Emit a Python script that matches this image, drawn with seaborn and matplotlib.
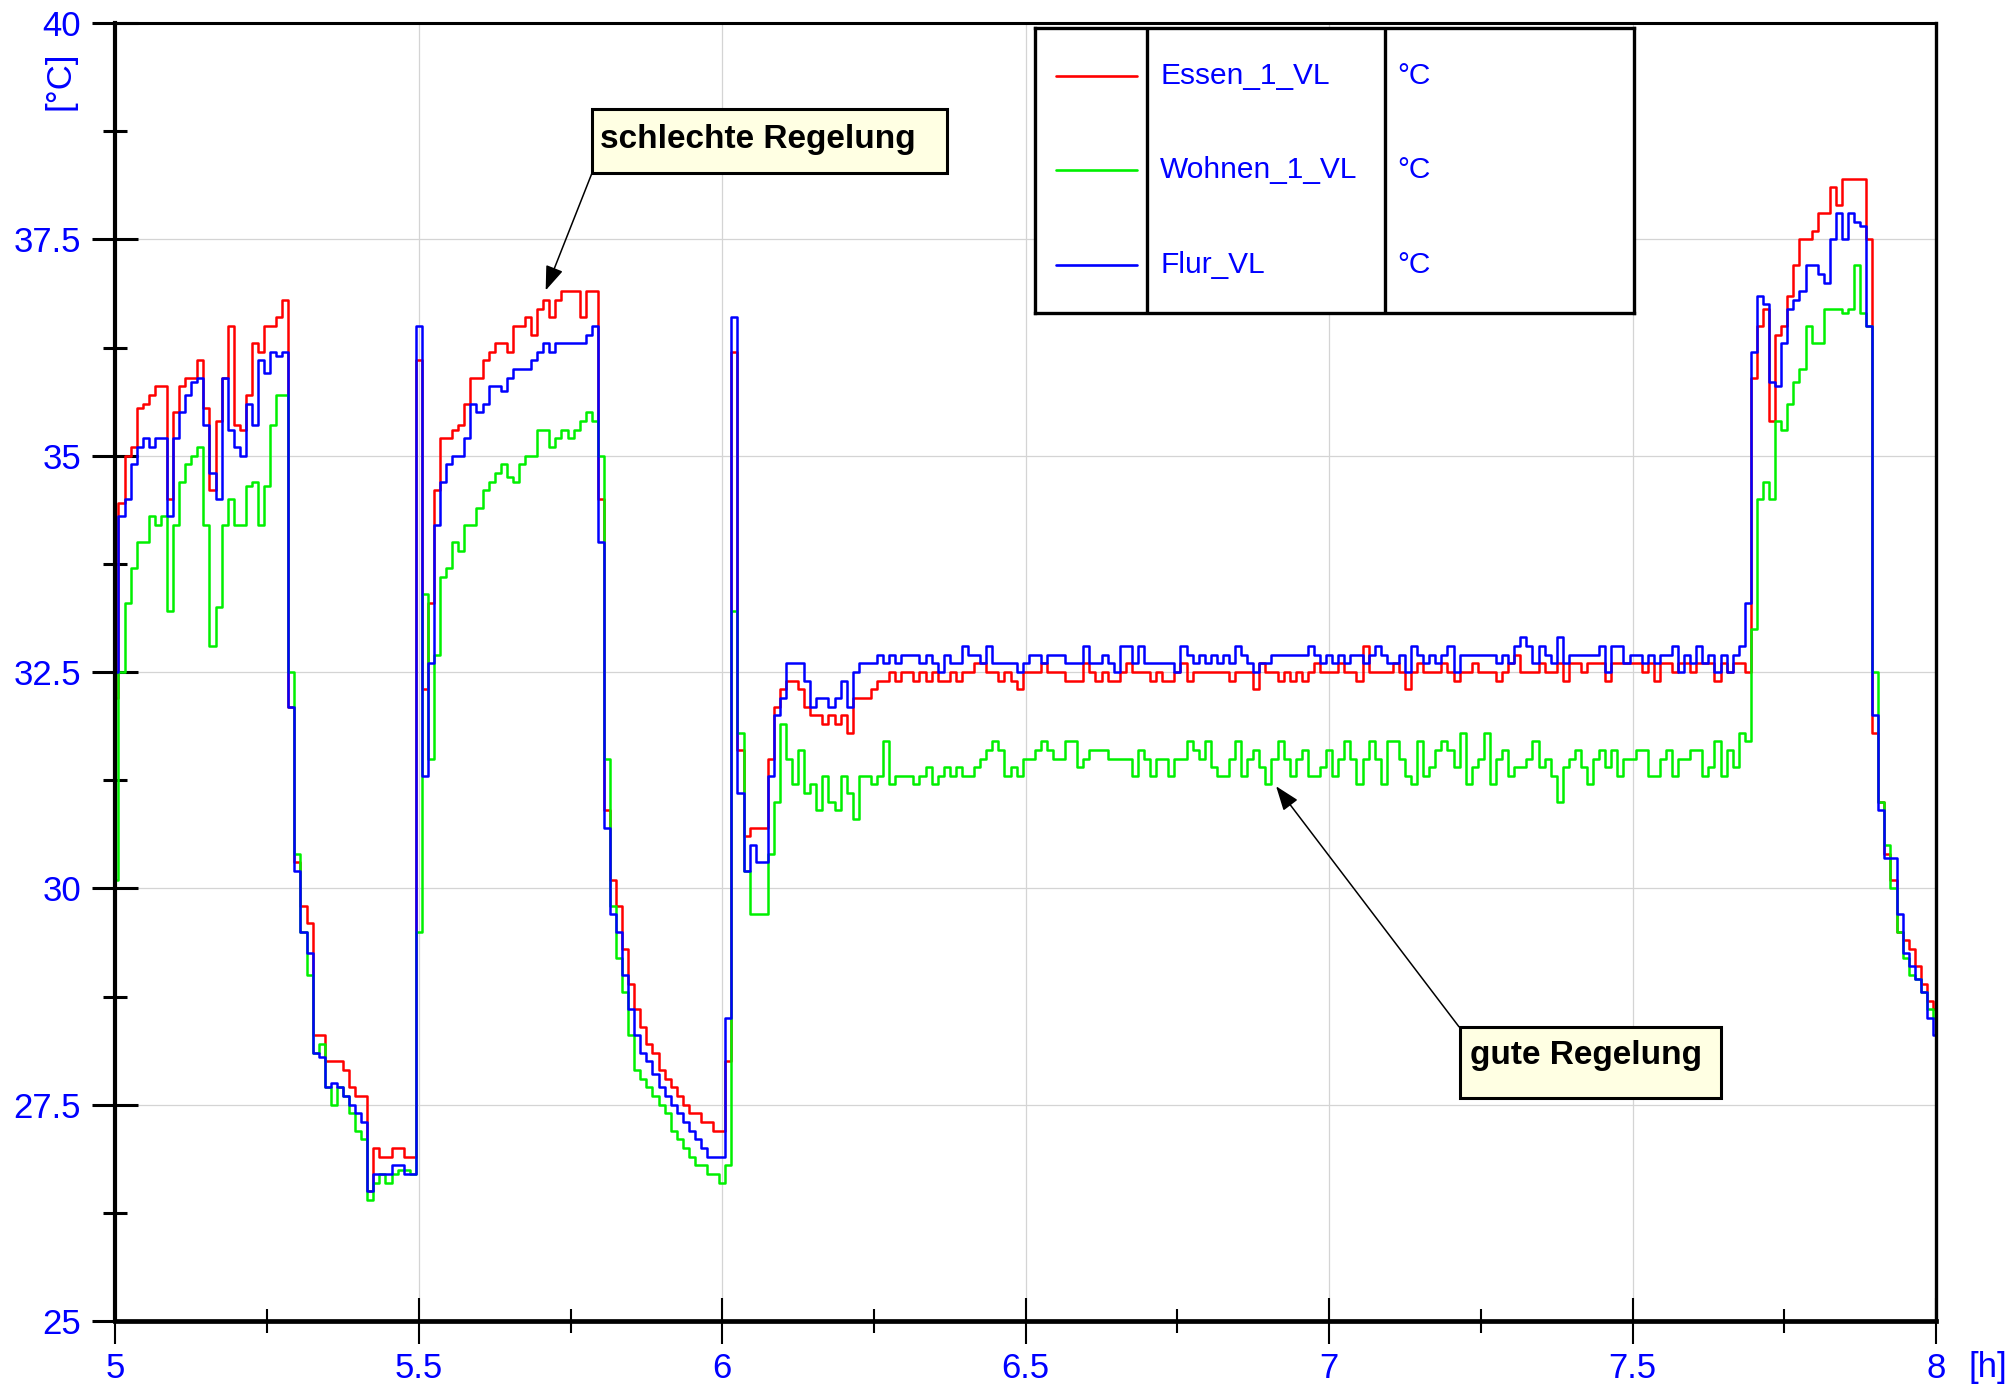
import numpy as np
import pandas as pd
import matplotlib
matplotlib.use("Agg")
import matplotlib.pyplot as plt
from matplotlib.patches import Rectangle
from matplotlib.ticker import FixedLocator, FuncFormatter
import seaborn as sns

# ---------------- data ----------------
# sample time grid in hours: 5.00 .. 8.00, every 0.01 h
t_start, t_end, n_samples = 5.0, 8.0, 301

essen_1_vl = [
    32.2, 34.45, 35.0, 35.1, 35.55, 35.6, 35.7, 35.8, 35.8, 34.5,
    35.5, 35.8, 35.9, 35.9, 36.1, 35.55, 34.6, 35.4, 35.9, 36.5,
    35.35, 35.3, 35.7, 36.3, 36.2, 36.5, 36.5, 36.6, 36.8, 32.1,
    30.3, 29.8, 29.6, 28.3, 28.3, 28.0, 28.0, 28.0, 27.9, 27.7,
    27.6, 27.6, 26.5, 27.0, 26.9, 26.9, 27.0, 27.0, 26.9, 26.9,
    36.1, 32.3, 33.3, 34.6, 35.2, 35.2, 35.3, 35.35, 35.6, 35.9,
    35.9, 36.1, 36.2, 36.3, 36.3, 36.2, 36.5, 36.5, 36.6, 36.4,
    36.7, 36.8, 36.6, 36.8, 36.9, 36.9, 36.9, 36.6, 36.9, 36.9,
    34.5, 30.9, 30.1, 29.8, 29.3, 28.9, 28.6, 28.4, 28.2, 28.1,
    27.9, 27.8, 27.7, 27.6, 27.5, 27.4, 27.4, 27.3, 27.3, 27.2,
    27.2, 28.0, 36.2, 31.6, 30.6, 30.7, 30.7, 30.7, 31.5, 32.1,
    32.3, 32.4, 32.4, 32.3, 32.1, 32.0, 32.0, 31.9, 32.0, 31.9,
    32.0, 31.8, 32.2, 32.2, 32.2, 32.3, 32.4, 32.4, 32.5, 32.4,
    32.5, 32.5, 32.4, 32.5, 32.4, 32.5, 32.4, 32.4, 32.5, 32.4,
    32.5, 32.5, 32.6, 32.6, 32.5, 32.5, 32.4, 32.5, 32.4, 32.3,
    32.5, 32.5, 32.5, 32.6, 32.5, 32.5, 32.5, 32.4, 32.4, 32.4,
    32.6, 32.5, 32.4, 32.5, 32.4, 32.4, 32.5, 32.6, 32.5, 32.5,
    32.5, 32.4, 32.5, 32.4, 32.4, 32.5, 32.6, 32.4, 32.5, 32.5,
    32.5, 32.5, 32.5, 32.5, 32.4, 32.5, 32.5, 32.5, 32.3, 32.6,
    32.5, 32.5, 32.4, 32.5, 32.4, 32.5, 32.4, 32.5, 32.6, 32.5,
    32.5, 32.5, 32.6, 32.5, 32.5, 32.4, 32.8, 32.5, 32.5, 32.5,
    32.5, 32.6, 32.5, 32.3, 32.5, 32.6, 32.5, 32.5, 32.5, 32.6,
    32.5, 32.4, 32.5, 32.5, 32.6, 32.5, 32.5, 32.5, 32.4, 32.5,
    32.6, 32.7, 32.5, 32.5, 32.5, 32.6, 32.5, 32.5, 32.6, 32.4,
    32.6, 32.6, 32.5, 32.6, 32.6, 32.6, 32.4, 32.6, 32.6, 32.6,
    32.6, 32.6, 32.5, 32.6, 32.4, 32.6, 32.6, 32.5, 32.6, 32.6,
    32.5, 32.6, 32.6, 32.6, 32.4, 32.6, 32.5, 32.6, 32.6, 32.5,
    35.9, 36.5, 36.7, 35.4, 36.4, 36.5, 36.85, 37.2, 37.5, 37.5,
    37.6, 37.8, 37.8, 38.1, 37.9, 38.2, 38.2, 38.2, 38.2, 37.5,
    31.8, 31.0, 30.4, 30.1, 29.5, 29.4, 29.3, 29.1, 28.9, 28.7,
    28.6,
]

wohnen_1_vl = [
    30.1, 32.5, 33.3, 33.7, 34.0, 34.0, 34.3, 34.2, 34.3, 33.2,
    34.2, 34.7, 34.9, 35.0, 35.1, 34.2, 32.8, 33.25, 34.2, 34.5,
    34.2, 34.2, 34.65, 34.7, 34.2, 34.65, 35.35, 35.7, 35.7, 32.5,
    30.4, 29.5, 29.0, 28.1, 28.2, 27.7, 27.5, 27.7, 27.6, 27.4,
    27.2, 27.1, 26.4, 26.6, 26.7, 26.6, 26.7, 26.75, 26.75, 26.7,
    29.5, 33.4, 31.5, 32.7, 33.6, 33.7, 34.0, 33.9, 34.2, 34.2,
    34.4, 34.6, 34.7, 34.8, 34.9, 34.75, 34.7, 34.9, 35.0, 35.0,
    35.3, 35.3, 35.1, 35.2, 35.3, 35.2, 35.3, 35.4, 35.5, 35.4,
    35.0, 31.5, 29.8, 29.2, 28.8, 28.3, 27.9, 27.8, 27.7, 27.6,
    27.5, 27.4, 27.2, 27.1, 27.0, 26.9, 26.8, 26.8, 26.7, 26.7,
    26.6, 26.8, 33.2, 31.8, 30.2, 29.7, 29.7, 29.7, 30.4, 31.0,
    31.9, 31.5, 31.2, 31.6, 31.1, 31.2, 30.9, 31.3, 31.0, 30.9,
    31.3, 31.1, 30.8, 31.3, 31.3, 31.2, 31.3, 31.7, 31.2, 31.3,
    31.3, 31.3, 31.2, 31.3, 31.4, 31.2, 31.3, 31.4, 31.3, 31.4,
    31.3, 31.3, 31.4, 31.5, 31.6, 31.7, 31.6, 31.3, 31.4, 31.3,
    31.5, 31.5, 31.6, 31.7, 31.6, 31.5, 31.5, 31.7, 31.7, 31.4,
    31.5, 31.6, 31.6, 31.6, 31.5, 31.5, 31.5, 31.5, 31.3, 31.6,
    31.5, 31.3, 31.5, 31.5, 31.3, 31.5, 31.5, 31.7, 31.6, 31.5,
    31.7, 31.4, 31.3, 31.3, 31.5, 31.7, 31.3, 31.5, 31.6, 31.4,
    31.2, 31.5, 31.7, 31.5, 31.3, 31.5, 31.6, 31.3, 31.3, 31.4,
    31.6, 31.3, 31.5, 31.7, 31.5, 31.2, 31.5, 31.7, 31.5, 31.2,
    31.7, 31.7, 31.5, 31.3, 31.2, 31.7, 31.3, 31.4, 31.6, 31.7,
    31.6, 31.4, 31.8, 31.2, 31.4, 31.5, 31.8, 31.2, 31.5, 31.6,
    31.3, 31.4, 31.4, 31.5, 31.7, 31.4, 31.5, 31.3, 31.0, 31.4,
    31.5, 31.6, 31.4, 31.2, 31.5, 31.6, 31.4, 31.6, 31.3, 31.5,
    31.5, 31.6, 31.6, 31.3, 31.3, 31.5, 31.6, 31.3, 31.5, 31.5,
    31.6, 31.6, 31.3, 31.4, 31.7, 31.3, 31.6, 31.4, 31.8, 31.7,
    33.0, 34.5, 34.7, 34.5, 35.4, 35.3, 35.6, 35.85, 36.0, 36.5,
    36.3, 36.3, 36.7, 36.7, 36.7, 36.65, 36.7, 37.2, 36.65, 36.5,
    32.5, 31.0, 30.5, 30.0, 29.5, 29.2, 29.0, 28.95, 28.8, 28.6,
    28.5,
]

flur_vl = [
    32.5, 34.3, 34.5, 34.9, 35.1, 35.2, 35.1, 35.2, 35.2, 34.3,
    35.2, 35.5, 35.7, 35.85, 35.9, 35.35, 34.8, 34.5, 35.9, 35.3,
    35.1, 35.0, 35.6, 35.35, 36.1, 35.95, 36.2, 36.15, 36.2, 32.1,
    30.2, 29.5, 29.25, 28.1, 28.05, 27.7, 27.75, 27.7, 27.6, 27.5,
    27.4, 27.3, 26.5, 26.7, 26.7, 26.7, 26.8, 26.8, 26.7, 26.7,
    36.5, 31.3, 32.6, 34.2, 34.7, 34.9, 35.0, 35.0, 35.2, 35.6,
    35.5, 35.6, 35.8, 35.8, 35.75, 35.9, 36.0, 36.0, 36.0, 36.1,
    36.2, 36.3, 36.2, 36.3, 36.3, 36.3, 36.3, 36.3, 36.4, 36.5,
    34.0, 30.7, 29.7, 29.5, 29.0, 28.6, 28.3, 28.1, 28.0, 27.85,
    27.7, 27.6, 27.5, 27.4, 27.3, 27.2, 27.1, 27.0, 26.9, 26.9,
    26.9, 28.5, 36.6, 31.1, 30.2, 30.5, 30.3, 30.3, 31.3, 32.0,
    32.2, 32.6, 32.6, 32.6, 32.4, 32.1, 32.2, 32.2, 32.1, 32.2,
    32.4, 32.1, 32.5, 32.6, 32.6, 32.6, 32.7, 32.6, 32.7, 32.6,
    32.7, 32.7, 32.7, 32.6, 32.7, 32.6, 32.5, 32.7, 32.6, 32.6,
    32.8, 32.7, 32.7, 32.6, 32.8, 32.6, 32.6, 32.6, 32.6, 32.5,
    32.6, 32.7, 32.7, 32.6, 32.7, 32.7, 32.7, 32.6, 32.6, 32.6,
    32.8, 32.6, 32.6, 32.7, 32.6, 32.5, 32.8, 32.8, 32.6, 32.8,
    32.6, 32.6, 32.6, 32.6, 32.6, 32.5, 32.8, 32.7, 32.6, 32.7,
    32.6, 32.7, 32.6, 32.7, 32.6, 32.8, 32.7, 32.6, 32.5, 32.6,
    32.6, 32.7, 32.7, 32.7, 32.7, 32.7, 32.7, 32.8, 32.7, 32.6,
    32.7, 32.6, 32.7, 32.6, 32.7, 32.7, 32.6, 32.7, 32.8, 32.7,
    32.6, 32.6, 32.7, 32.5, 32.8, 32.7, 32.6, 32.7, 32.6, 32.7,
    32.8, 32.5, 32.7, 32.7, 32.7, 32.7, 32.7, 32.7, 32.6, 32.7,
    32.6, 32.8, 32.9, 32.8, 32.6, 32.8, 32.7, 32.6, 32.9, 32.6,
    32.7, 32.7, 32.7, 32.7, 32.7, 32.8, 32.5, 32.8, 32.8, 32.6,
    32.7, 32.7, 32.6, 32.7, 32.6, 32.7, 32.7, 32.8, 32.5, 32.7,
    32.6, 32.8, 32.6, 32.7, 32.5, 32.7, 32.5, 32.7, 32.8, 33.3,
    36.2, 36.85, 36.75, 35.85, 35.8, 36.3, 36.7, 36.8, 36.9, 37.2,
    37.2, 37.1, 37.0, 37.5, 37.8, 37.5, 37.8, 37.7, 37.65, 36.5,
    32.0, 30.9, 30.35, 30.35, 29.7, 29.25, 29.1, 28.95, 28.8, 28.5,
    28.3,
]

series_names = ["Essen_1_VL", "Wohnen_1_VL", "Flur_VL"]
series_units = ["°C", "°C", "°C"]
series_colors = ["#ff0000", "#00f000", "#0000ff"]

x_ticks = [5, 5.5, 6, 6.5, 7, 7.5, 8]
y_ticks = [25, 27.5, 30, 32.5, 35, 37.5, 40]
x_minor = [5.25, 5.75, 6.25, 6.75, 7.25, 7.75]
y_minor = [26.25, 28.75, 31.25, 33.75, 36.25, 38.75]

annot_texts = ["schlechte Regelung", "gute Regelung"]

# ---------------- build long table ----------------
t = np.linspace(t_start, t_end, n_samples)
df = pd.DataFrame({
    "t": np.concatenate([t, t, t]),
    "v": np.concatenate([essen_1_vl, wohnen_1_vl, flur_vl]),
    "series": np.repeat(series_names, n_samples),
})

# ---------------- style ----------------
sns.set_style("white")
plt.rcParams["font.family"] = ["Liberation Sans", "DejaVu Sans"]
BLUE_TXT = "#0000ff"
TICK_FS = 25

W, H = 2010, 1385
fig = plt.figure(figsize=(W / 100, H / 100), dpi=100)
fig.patch.set_facecolor("white")

def fx(px):
    return px / W

def fy(py):
    return 1 - py / H

ax = fig.add_axes([fx(115.4), fy(1321), fx(1936) - fx(115.4), fy(23) - fy(1321)])

sns.lineplot(data=df, x="t", y="v", hue="series", hue_order=series_names,
             palette=dict(zip(series_names, series_colors)),
             estimator=None, errorbar=None, legend=False, linewidth=1.8,
             drawstyle="steps-mid", ax=ax)

ax.set_xlim(5, 8)
ax.set_ylim(25, 40)
ax.set_xlabel("")
ax.set_ylabel("")

ax.xaxis.set_major_locator(FixedLocator(x_ticks))
ax.yaxis.set_major_locator(FixedLocator(y_ticks))
ax.xaxis.set_minor_locator(FixedLocator(x_minor))
ax.yaxis.set_minor_locator(FixedLocator(y_minor))
fmt = FuncFormatter(lambda v, p: f"{v:g}")
ax.xaxis.set_major_formatter(fmt)
ax.yaxis.set_major_formatter(fmt)

ax.grid(True, which="major", color="#d4d4d4", linewidth=0.9)
ax.set_axisbelow(True)

ax.tick_params(axis="x", which="major", direction="inout", length=33, width=1.5,
               color="black", labelcolor=BLUE_TXT, labelsize=TICK_FS, pad=6)
ax.tick_params(axis="x", which="minor", direction="inout", length=17, width=1.5,
               color="black")
ax.tick_params(axis="y", which="major", direction="inout", length=33, width=2.2,
               color="black", labelcolor=BLUE_TXT, labelsize=TICK_FS, pad=8.2)
ax.tick_params(axis="y", which="minor", direction="inout", length=17, width=2.2,
               color="black")
ax.tick_params(left=True, bottom=True, which="both")

for side, lw in [("left", 3.0), ("bottom", 3.4), ("top", 2.2), ("right", 2.4)]:
    ax.spines[side].set_visible(True)
    ax.spines[side].set_color("black")
    ax.spines[side].set_linewidth(lw)
    ax.spines[side].set_zorder(5)

# axis unit labels
fig.text(fx(60), fy(81), "[°C]", rotation=90, ha="center", va="center",
         color=BLUE_TXT, fontsize=TICK_FS)
fig.text(fx(1968), fy(1367), "[h]", ha="left", va="center",
         color=BLUE_TXT, fontsize=TICK_FS)

# ---------------- legend table ----------------
lx0, lx1, ly0, ly1 = 1035, 1634, 28, 313
lax = fig.add_axes([fx(lx0), fy(ly1), fx(lx1) - fx(lx0), fy(ly0) - fy(ly1)])
lax.set_xlim(0, lx1 - lx0)
lax.set_ylim(ly1 - ly0, 0)
lax.set_facecolor("white")
lax.set_xticks([])
lax.set_yticks([])
for s in lax.spines.values():
    s.set_visible(True)
    s.set_color("black")
    s.set_linewidth(2.4)
lax.axvline(1147 - lx0, color="black", lw=2.4)
lax.axvline(1384.5 - lx0, color="black", lw=2.4)
row_y = [76 - ly0, 170 - ly0, 265 - ly0]
for name, unit, col, ry in zip(series_names, series_units, series_colors, row_y):
    lax.plot([1056 - lx0, 1137 - lx0], [ry, ry], color=col, lw=1.9)
    lax.text(1160 - lx0, ry, name, color=BLUE_TXT, fontsize=21.5, va="center", ha="left")
    lax.text(1397 - lx0, ry, unit, color=BLUE_TXT, fontsize=21.5, va="center", ha="left")

# ---------------- annotations ----------------
box_specs = [
    # (x0, y0_top, x1, y1_bottom, text_x, text_baseline)
    (592, 109, 947, 173, 600, 148),
    (1460, 1027, 1721, 1098, 1470, 1064),
]
for (bx0, by0, bx1, by1, tx, ty), txt in zip(box_specs, annot_texts):
    rect = Rectangle((fx(bx0), fy(by1)), fx(bx1) - fx(bx0), fy(by0) - fy(by1),
                     transform=fig.transFigure, facecolor="#ffffe3",
                     edgecolor="black", linewidth=2.2, zorder=10)
    fig.patches.append(rect)
    fig.text(fx(tx), fy(ty), txt, ha="left", va="baseline", fontsize=24,
             fontweight="bold", color="black", zorder=11)

arrow_style = "-|>,head_length=0.6,head_width=0.22"
ax.annotate("", xy=(5.709, 36.91), xytext=(5.785, 38.26),
            arrowprops=dict(arrowstyle=arrow_style, color="black", lw=1.1,
                            mutation_scale=25, shrinkA=0, shrinkB=0),
            annotation_clip=False, zorder=9)
ax.annotate("", xy=(6.9126, 31.18), xytext=(7.214, 28.40),
            arrowprops=dict(arrowstyle=arrow_style, color="black", lw=1.1,
                            mutation_scale=25, shrinkA=0, shrinkB=0),
            annotation_clip=False, zorder=9)

fig.savefig("out.png", dpi=100, facecolor="white")
